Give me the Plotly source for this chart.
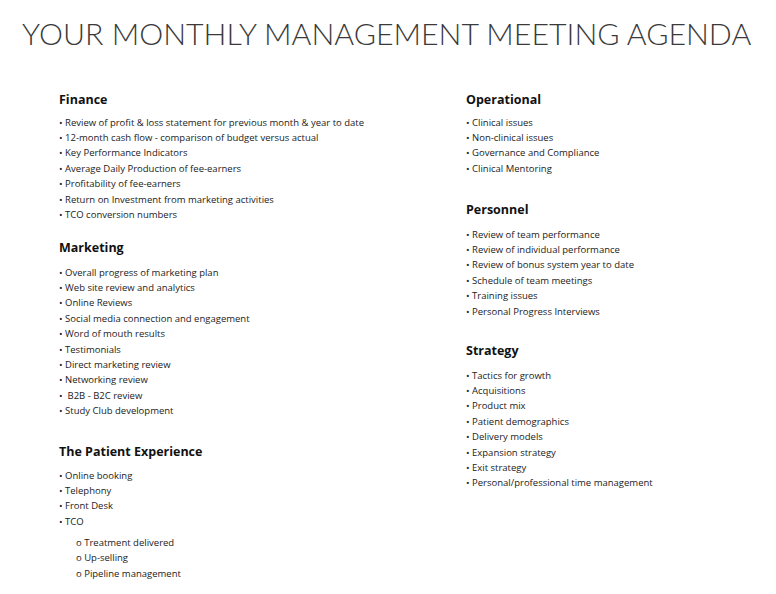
import plotly.graph_objects as go

title = "YOUR MONTHLY MANAGEMENT MEETING AGENDA"

finance = ["Review of profit & loss statement for previous month & year to date",
           "12-month cash flow - comparison of budget versus actual",
           "Key Performance Indicators",
           "Average Daily Production of fee-earners",
           "Profitability of fee-earners",
           "Return on Investment from marketing activities",
           "TCO conversion numbers"]
marketing = ["Overall progress of marketing plan", "Web site review and analytics",
             "Online Reviews", "Social media connection and engagement",
             "Word of mouth results", "Testimonials", "Direct marketing review",
             "Networking review", " B2B - B2C review", "Study Club development"]
patient = ["Online booking", "Telephony", "Front Desk", "TCO"]
patient_sub = ["Treatment delivered", "Up-selling", "Pipeline management"]
operational = ["Clinical issues", "Non-clinical issues", "Governance and Compliance",
               "Clinical Mentoring"]
personnel = ["Review of team performance", "Review of individual performance",
             "Review of bonus system year to date", "Schedule of team meetings",
             "Training issues", "Personal Progress Interviews"]
strategy = ["Tactics for growth", "Acquisitions", "Product mix", "Patient demographics",
            "Delivery models", "Expansion strategy", "Exit strategy",
            "Personal/professional time management"]

# (heading, items, x, heading y, first item y)  -- page offset corrected
sections = [
    ("Finance", finance, 49, 91, 114),
    ("Marketing", marketing, 49, 239, 264),
    ("The Patient Experience", patient, 49, 443, 467),
    ("Operational", operational, 456, 91, 114),
    ("Personnel", personnel, 456, 201, 226),
    ("Strategy", strategy, 456, 342, 367),
]
step = 15.4
font = "Open Sans"

fig = go.Figure()
ann = [dict(x=378, y=25, text=title, showarrow=False, xanchor="center", yanchor="middle",
            font=dict(family="Lato", size=30.3, color="#3a3a3a", weight=300))]
for head, items, x, hy, iy in sections:
    ann.append(dict(x=x, y=hy, text="<b>" + head + "</b>", showarrow=False,
                    xanchor="left", yanchor="middle",
                    font=dict(family=font, size=12.5, color="#111")))
    for i, it in enumerate(items):
        ann.append(dict(x=x, y=iy + i * step, text="• " + it, showarrow=False,
                        xanchor="left", yanchor="middle",
                        font=dict(family=font, size=9.5, color="#222")))
for i, it in enumerate(patient_sub):
    ann.append(dict(x=66, y=534 + i * 15.5, text="o " + it, showarrow=False,
                    xanchor="left", yanchor="middle",
                    font=dict(family=font, size=9.5, color="#222")))

fig.update_layout(
    width=776, height=594, margin=dict(l=0, r=0, t=0, b=0),
    paper_bgcolor="white", plot_bgcolor="white",
    xaxis=dict(range=[0, 776], visible=False, fixedrange=True),
    yaxis=dict(range=[594, 0], visible=False, fixedrange=True),
    annotations=ann, showlegend=False,
)
fig.write_html("out.html")
